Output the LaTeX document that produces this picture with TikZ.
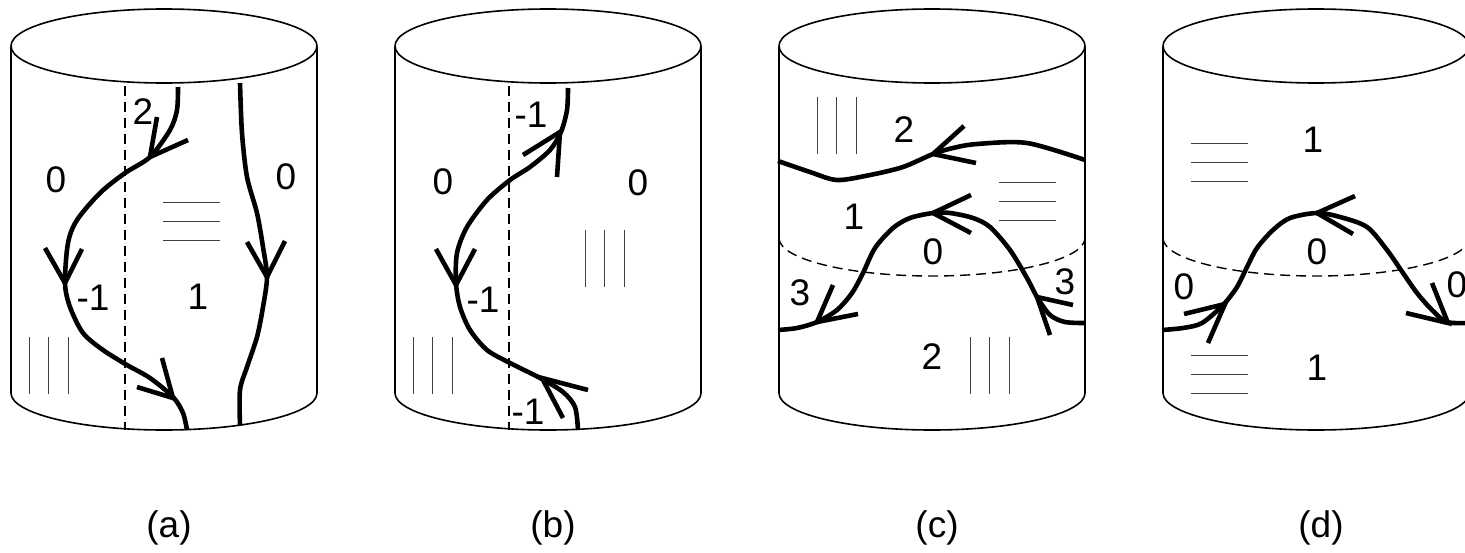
\documentclass[tikz,border=0pt]{standalone}
\usepackage{fontspec}
\setmainfont{Liberation Sans}
\usetikzlibrary{calc}

\newcommand\vhatch[2]{\foreach \hx in {0,19.5,39}{\draw[hatch] (#1+\hx,#2) -- (#1+\hx,#2+57);}}
\newcommand\hhatch[2]{\foreach \hy in {0,19,38}{\draw[hatch] (#1,#2+\hy) -- (#1+57,#2+\hy);}}

\begin{document}
\begin{tikzpicture}[
  x=1pt,y=-1pt,
  font=\fontsize{37}{42}\selectfont,
  outline/.style={line width=1.6pt},
  strand/.style={line width=4.6pt},
  seam/.style={line width=1.4pt,dash pattern=on 10pt off 6pt},
  hatch/.style={line width=0.9pt,black!75},
  num/.style={inner sep=0pt}
]
\useasboundingbox (0,0) rectangle (1465,552);

% ---------- cylinders
\foreach \c/\t in {164/a,548/b,932/c,1316/d}{
  \draw[outline] (\c,46) ellipse[x radius=153,y radius=37];
  \draw[outline] (\c-153,47) -- (\c-153,393) arc[start angle=180,end angle=0,x radius=153,y radius=37] -- (\c+153,47);
  \node[num] (cap-\t) at (\c+5,528) {(\t)};
}

% ---------- (a)
\draw[seam] (125,86) -- (125,430);
\draw[strand] plot[smooth] coordinates {(178,87) (177,110) (170,130) (150,157) (125,173) (100,193) (77,220) (68,243) (65,283) (70,307) (83,333) (103,350) (127,365) (150,378) (173,397) (183,413) (187,430)};
\draw[strand] (157,117) -- (150,157) -- (188,140);
\draw[strand] (45,248) -- (65,283) -- (82,249);
\draw[strand] (162,358) -- (173,398) -- (137,387);
\draw[strand] plot[smooth] coordinates {(240,83) (242,133) (247,177) (257,213) (263,247) (267,277) (263,307) (257,337) (247,367) (240,390) (240,425)};
\draw[strand] (247,242) -- (267,277) -- (285,241);
\node[num] (a-top) at (143,112) {2};
\node[num] (a-left) at (56,180) {0};
\node[num] (a-right) at (286,177) {0};
\node[num] (a-mid) at (93,298) {-1};
\node[num] (a-core) at (198,297) {1};
\hhatch{163}{202}
\vhatch{29}{337}

% ---------- (b)
\draw[seam] (509,86) -- (509,430);
\draw[strand] plot[smooth] coordinates {(568,88) (567,110) (561,132) (550,150) (530,167) (510,180) (487,200) (467,227) (457,253) (456,283) (460,307) (470,330) (487,350) (510,363) (540,378) (563,392) (575,407) (578,430)};
\draw[strand] (523,155) -- (560,132) -- (557,177);
\draw[strand] (436,249) -- (456,285) -- (475,249);
\draw[strand] (588,390) -- (542,378) -- (563,418);
\node[num] (b-top) at (531,115) {-1};
\node[num] (b-left) at (443,182) {0};
\node[num] (b-right) at (638,183) {0};
\node[num] (b-mid) at (483,300) {-1};
\node[num] (b-low) at (528,412) {-1};
\vhatch{585}{230}
\vhatch{413}{337}

% ---------- (c)
\draw[seam] (779,238) arc[start angle=180,end angle=0,x radius=153,y radius=38];
\draw[strand] plot[smooth] coordinates {(1085,160) (1027,143) (977,144) (953,148) (933,154) (903,167) (870,175) (837,180) (810,172) (778,161)};
\draw[strand] (964,126) -- (933,154) -- (976,163);
\draw[strand] plot[smooth] coordinates {(1085,323) (1065,322) (1050,315) (1037,297) (1027,278) (1010,250) (990,227) (973,218) (950,213) (933,213) (910,218) (893,228) (875,248) (863,273) (852,293) (837,310) (817,322) (797,328) (778,330)};
\draw[strand] (1073,305) -- (1037,297) -- (1050,335);
\draw[strand] (971,195) -- (933,213) -- (971,233);
\draw[strand] (833,285) -- (817,322) -- (858,314);
\node[num] (c-top) at (904,130) {2};
\node[num] (c-upper) at (854,217) {1};
\node[num] (c-cap) at (933,252) {0};
\node[num] (c-left) at (800,293) {3};
\node[num] (c-right) at (1065,282) {3};
\node[num] (c-low) at (932,357) {2};
\vhatch{817}{97}
\hhatch{999}{182}
\vhatch{970}{337}

% ---------- (d)
\draw[seam] (1163,238) arc[start angle=180,end angle=0,x radius=153,y radius=38];
\draw[strand] plot[smooth] coordinates {(1162,330) (1183,328) (1202,323) (1223,305) (1237,287) (1247,267) (1257,248) (1273,230) (1290,218) (1317,213) (1340,217) (1367,227) (1387,250) (1403,273) (1417,293) (1432,310) (1447,322) (1470,323)};
\draw[strand] (1184,314) -- (1225,304) -- (1208,343);
\draw[strand] (1355,196) -- (1317,213) -- (1353,234);
\draw[strand] (1432,283) -- (1448,323) -- (1406,313);
\node[num] (d-top) at (1313,140) {1};
\node[num] (d-cap) at (1317,252) {0};
\node[num] (d-left) at (1184,287) {0};
\node[num] (d-right) at (1457,285) {0};
\node[num] (d-low) at (1317,368) {1};
\hhatch{1191}{143}
\hhatch{1191}{355}
\end{tikzpicture}
\end{document}
